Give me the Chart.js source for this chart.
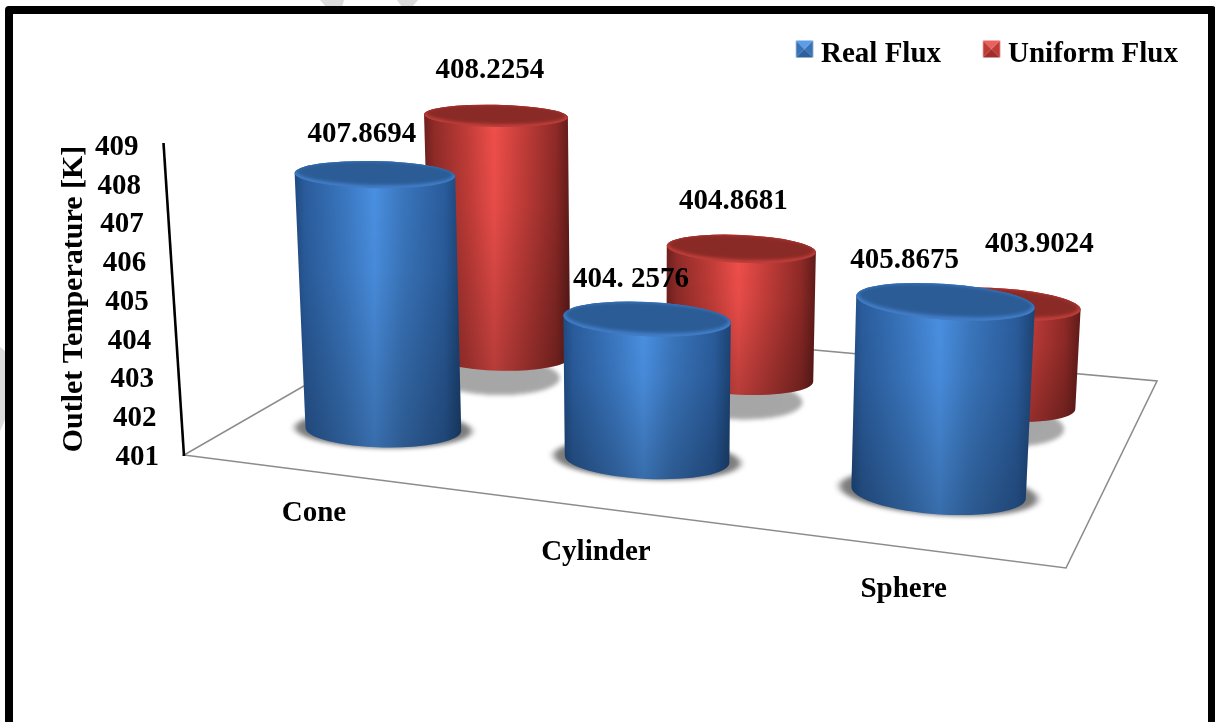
<!DOCTYPE html>
<html>
<head>
<meta charset="utf-8">
<style>html,body{margin:0;padding:0;background:#fff}canvas{display:block}</style>
<script src="https://cdn.jsdelivr.net/npm/chart.js@4"></script>
</head>
<body>
<canvas id="c" width="1215" height="722"></canvas>
<script>
// Chart values
const categories = ["Cone", "Cylinder", "Sphere"];
const realFlux = [407.8694, 404.2576, 405.8675];
const uniformFlux = [408.2254, 404.8681, 403.9024];
const realText = ["407.8694", "404. 2576", "405.8675"];
const uniformText = ["408.2254", "404.8681", "403.9024"];
const seriesNames = ["Real Flux", "Uniform Flux"];
const axisTitle = "Outlet Temperature [K]";
const axisMin = 401, axisMax = 409;

// Scene layout: floor corners relative to the plot area, and the camera-like tuning
const FONT = '"Liberation Serif", "Times New Roman", serif';
const seriesDepth = [0.3, 0.82];
const heightGain = [[1.022, 1.12, 0.962], [1.02, 0.979, 0.95]];
const sideNudge = [[-4, 0, 0], [0, 2, -3]];
const labelOffset = [[[-13, -40], [-16, -40], [-41, -41]], [[-6, -45], [-8, -47], [37, -60]]];
const categoryOffset = [[4.5, 42], [12, 46], [9, 43]];
const BASE_DROP = 9, RADIUS = 81, UNIT_RATIO = 38 / 39, LEAN = 1.25e-4, VANISH_X = 648;

const BLUE = {
  side: [[0, '#1f4a80'], [.06, '#2a5c9c'], [.3, '#3a77c0'], [.48, '#4a90e2'], [.65, '#3a76bd'], [.9, '#2a5c9c'], [1, '#1c4373']],
  cap: '#2b5c95', rim: '#3a74bd', glint: 'rgba(130,185,245,.3)',
  icon: ['#5b9de8', '#3a72b5', '#2c5f9e']
};
const RED = {
  side: [[0, '#6e1f1d'], [.07, '#8f2b28'], [.3, '#c23c38'], [.48, '#f04f4b'], [.65, '#c93f3b'], [.9, '#8f2a27'], [1, '#5f1b19']],
  cap: '#8a2a26', rim: '#b53733', glint: 'rgba(240,130,125,.3)',
  icon: ['#e8615c', '#c03a36', '#a02f2b']
};
const palettes = [BLUE, RED];

// Maps a (u, v) position on the unit floor square to the screen
function floorMapper(area) {
  const x0 = area.left, y0 = area.bottom;
  const x1 = area.right, y1 = area.bottom + 113;
  const x2 = area.right + 91, y2 = area.bottom - 74;
  const x3 = area.left + 243, y3 = area.bottom - 140;
  const sx = x0 - x1 + x2 - x3, sy = y0 - y1 + y2 - y3;
  const dx1 = x1 - x2, dx2 = x3 - x2, dy1 = y1 - y2, dy2 = y3 - y2;
  const den = dx1 * dy2 - dx2 * dy1;
  const g = (sx * dy2 - dx2 * sy) / den, h = (dx1 * sy - sx * dy1) / den;
  const a = x1 - x0 + g * x1, b = x3 - x0 + h * x3;
  const d = y1 - y0 + g * y1, e = y3 - y0 + h * y3;
  const map = (u, v) => {
    const w = 1 + g * u + h * v;
    return { x: (a * u + b * v + x0) / w, y: (d * u + e * v + y0) / w, size: 1 / w };
  };
  map.corners = [[x0, y0], [x1, y1], [x2, y2], [x3, y3]];
  return map;
}

const flatness = y => 0.125 + 0.00025 * y;
const tiltFor = u => (0.5 + 4.2 * u) * Math.PI / 180;

// Resolves one bar element into the ellipses of a standing cylinder
function cylinderOf(chart, s, i) {
  const el = chart.getDatasetMeta(s).data[i];
  const xs = chart.scales.x, ys = chart.scales.y;
  const u = (xs.getPixelForValue(i) - xs.left) / xs.width;
  const p = floorMapper(chart.chartArea)(u, seriesDepth[s]);
  const h = (ys.getPixelForValue(axisMin) - el.y) * UNIT_RATIO * p.size * heightGain[s][i];
  const grow = 1 + LEAN * h;
  const bx = p.x + sideNudge[s][i];
  const by = p.y + BASE_DROP, ty = by - h, rx = RADIUS * p.size;
  return {
    s, i, tilt: tiltFor(u),
    bx, by, brx: rx, bry: rx * flatness(by),
    tx: VANISH_X + (bx - VANISH_X) * grow, ty, trx: rx * grow, try: rx * grow * flatness(ty)
  };
}

function drawShadow(ctx, c) {
  const back = c.s === 1;
  const cx = c.bx - (back ? 4 : 0), cy = c.by + (back ? 21 : 0);
  const rx = c.brx * (back ? 0.92 : 1.2), ry = c.bry * (back ? 1.25 : 1.1);
  ctx.save();
  ctx.filter = 'blur(2px)';
  ctx.translate(cx, cy);
  ctx.rotate(c.tilt);
  ctx.scale(1, ry / rx);
  const g = ctx.createRadialGradient(0, 0, rx * 0.6, 0, 0, rx);
  if (back) {
    g.addColorStop(0, '#a6a6a6'); g.addColorStop(.93, '#a8a8a8'); g.addColorStop(1, 'rgba(168,168,168,0)');
  } else {
    g.addColorStop(0, '#6a6a6a'); g.addColorStop(.78, '#808080'); g.addColorStop(1, 'rgba(190,190,190,0)');
  }
  ctx.fillStyle = g;
  ctx.beginPath();
  ctx.arc(0, 0, rx, 0, Math.PI * 2);
  ctx.fill();
  ctx.restore();
}

function drawCylinder(ctx, c) {
  const pal = palettes[c.s];
  const cos = Math.cos(c.tilt), sin = Math.sin(c.tilt);
  const body = () => {
    ctx.beginPath();
    ctx.moveTo(c.tx - c.trx * cos, c.ty - c.trx * sin);
    ctx.lineTo(c.bx - c.brx * cos, c.by - c.brx * sin);
    ctx.ellipse(c.bx, c.by, c.brx, c.bry, c.tilt, Math.PI, 0, true);
    ctx.lineTo(c.tx + c.trx * cos, c.ty + c.trx * sin);
    ctx.ellipse(c.tx, c.ty, c.trx, c.try, c.tilt, 0, Math.PI, true);
    ctx.closePath();
  };
  const left = Math.min(c.tx - c.trx, c.bx - c.brx), right = Math.max(c.tx + c.trx, c.bx + c.brx);
  const sideways = ctx.createLinearGradient(left, 0, right, 0);
  pal.side.forEach(([at, col]) => sideways.addColorStop(at, col));
  body();
  ctx.fillStyle = sideways;
  ctx.fill();

  const fade = ctx.createLinearGradient(0, c.ty, 0, c.by + c.bry);
  fade.addColorStop(0, 'rgba(0,0,0,0)');
  fade.addColorStop(.35, 'rgba(0,0,0,.04)');
  fade.addColorStop(1, 'rgba(0,0,0,.24)');
  ctx.fillStyle = fade;
  body();
  ctx.fill();

  // Top face: soft bevel with a darker inner disc
  ctx.save();
  ctx.beginPath();
  ctx.ellipse(c.tx, c.ty, c.trx, c.try, c.tilt, 0, Math.PI * 2);
  ctx.fillStyle = pal.rim;
  ctx.fill();
  ctx.clip();
  ctx.filter = 'blur(1.8px)';
  ctx.lineWidth = 1.5;
  ctx.strokeStyle = pal.glint;
  ctx.beginPath();
  ctx.ellipse(c.tx, c.ty, c.trx - 1, c.try - 1, c.tilt, 0, Math.PI);
  ctx.stroke();
  ctx.beginPath();
  ctx.ellipse(c.tx, c.ty - 1.5, c.trx * 0.965, c.try * 0.84, c.tilt, 0, Math.PI * 2);
  ctx.fillStyle = pal.cap;
  ctx.fill();
  ctx.restore();
}

function legendIcon(colors) {
  const cv = document.createElement('canvas');
  cv.width = 26; cv.height = 30;
  const g = cv.getContext('2d');
  const x = 6.75, y = 0.5, S = 17, m = 8.5;
  const tri = (col, pts) => {
    g.fillStyle = col; g.beginPath();
    pts.forEach((q, n) => n ? g.lineTo(x + q[0], y + q[1]) : g.moveTo(x + q[0], y + q[1]));
    g.closePath(); g.fill();
  };
  tri(colors[1], [[0, 0], [m, m], [0, S]]);
  tri(colors[1], [[S, 0], [m, m], [S, S]]);
  tri(colors[2], [[0, S], [m, m], [S, S]]);
  tri(colors[0], [[0, 0], [m, m], [S, 0]]);
  return cv;
}
const icons = [legendIcon(BLUE.icon), legendIcon(RED.icon)];

const cylinderScene = {
  id: 'cylinderScene',
  afterLayout(chart) {
    // The legend sits in the top-right corner, above the plot's reserved band
    const lg = chart.legend;
    lg.top = -3.5; lg.bottom = lg.top + lg.height;
    lg.left = 0; lg.right = 1222;
  },
  beforeDraw(chart) {
    const ctx = chart.ctx;
    ctx.save();
    ctx.fillStyle = '#dcdcdc';
    [[[320, 0], [344, 0], [342, 7], [326, 7]], [[397, 0], [418, 0], [412, 7], [402, 7]], [[0, 347], [5, 351], [5, 420], [0, 431]]]
      .forEach(poly => {
        ctx.beginPath();
        poly.forEach((q, n) => n ? ctx.lineTo(q[0], q[1]) : ctx.moveTo(q[0], q[1]));
        ctx.closePath(); ctx.fill();
      });
    ctx.strokeStyle = '#000';
    ctx.lineWidth = 8;
    ctx.lineJoin = 'round';
    ctx.strokeRect(9, 10, 1203, 800);
    ctx.restore();
  },
  beforeDatasetsDraw(chart) {
    const ctx = chart.ctx, area = chart.chartArea, ys = chart.scales.y;
    const corners = floorMapper(area).corners;
    ctx.save();
    ctx.strokeStyle = '#8c8c8c';
    ctx.lineWidth = 1.6;
    ctx.lineJoin = 'miter';
    ctx.beginPath();
    corners.forEach((q, n) => n ? ctx.lineTo(q[0], q[1]) : ctx.moveTo(q[0], q[1]));
    ctx.closePath();
    ctx.stroke();

    // Slanted value axis rising from the front-left corner of the floor
    const axisX = v => area.left - 20.5 * (ys.getPixelForValue(axisMin) - ys.getPixelForValue(v)) / area.height;
    ctx.strokeStyle = '#000';
    ctx.lineWidth = 2.6;
    ctx.beginPath();
    ctx.moveTo(area.left, area.bottom + 1);
    ctx.lineTo(axisX(axisMax), area.top - 2);
    ctx.stroke();

    ctx.fillStyle = '#000';
    ctx.font = 'bold 29px ' + FONT;
    ctx.textAlign = 'right';
    ctx.textBaseline = 'middle';
    ys.ticks.forEach(t => {
      ctx.fillText(String(t.value), axisX(t.value) - 25, ys.getPixelForValue(t.value) + 2.5);
    });

    ctx.save();
    ctx.font = 'bold 30px ' + FONT;
    ctx.translate(73.5, (area.top + area.bottom) / 2 - 1);
    ctx.rotate(-Math.PI / 2);
    ctx.textAlign = 'center';
    ctx.fillText(axisTitle, 0, 1);
    ctx.restore();
    ctx.restore();

    for (let s = 1; s >= 0; s--) categories.forEach((_, i) => drawShadow(ctx, cylinderOf(chart, s, i)));
  },
  beforeDatasetDraw() { return false; },
  afterDatasetsDraw(chart) {
    const ctx = chart.ctx, xs = chart.scales.x;
    const map = floorMapper(chart.chartArea);
    for (let s = 1; s >= 0; s--) categories.forEach((_, i) => drawCylinder(ctx, cylinderOf(chart, s, i)));

    ctx.save();
    ctx.fillStyle = '#000';
    ctx.font = 'bold 29px ' + FONT;
    ctx.textAlign = 'center';
    ctx.textBaseline = 'middle';
    categories.forEach((name, i) => {
      const p = map((xs.getPixelForValue(i) - xs.left) / xs.width, 0);
      ctx.fillText(name, p.x + categoryOffset[i][0], p.y + categoryOffset[i][1]);
    });
    [realText, uniformText].forEach((texts, s) => texts.forEach((txt, i) => {
      const c = cylinderOf(chart, s, i);
      ctx.fillText(txt, c.tx + labelOffset[s][i][0], c.ty + labelOffset[s][i][1]);
    }));
    ctx.restore();
  }
};

new Chart(document.getElementById('c'), {
  type: 'bar',
  data: {
    labels: categories,
    datasets: [
      { label: seriesNames[0], data: realFlux, backgroundColor: '#3a77c0' },
      { label: seriesNames[1], data: uniformFlux, backgroundColor: '#c23c38' }
    ]
  },
  options: {
    responsive: false,
    animation: false,
    events: [],
    layout: { padding: { left: 184, right: 149, top: 62, bottom: 267 } },
    scales: {
      x: { display: false },
      y: { display: false, min: axisMin, max: axisMax, ticks: { stepSize: 1 } }
    },
    plugins: {
      title: { display: false },
      tooltip: { enabled: false },
      legend: {
        position: 'top',
        align: 'end',
        labels: {
          usePointStyle: true,
          boxWidth: 8.5,
          boxHeight: 17,
          padding: 44,
          color: '#000',
          font: { family: FONT, size: 29, weight: 'bold' },
          generateLabels: chart => chart.data.datasets.map((d, n) => ({
            text: d.label, fillStyle: d.backgroundColor, pointStyle: icons[n],
            datasetIndex: n, hidden: false, lineWidth: 0, fontColor: '#000'
          }))
        }
      }
    }
  },
  plugins: [cylinderScene]
});
</script>
</body>
</html>
